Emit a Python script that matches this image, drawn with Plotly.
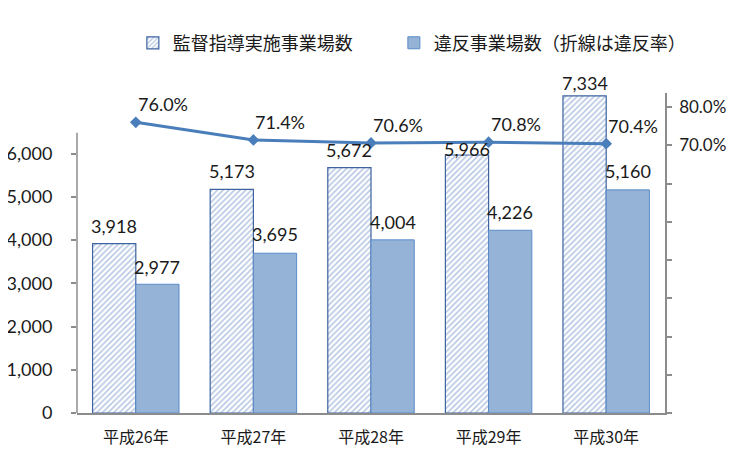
import plotly.graph_objects as go

categories = ["平成26年", "平成27年", "平成28年", "平成29年", "平成30年"]
supervised = [3918, 5173, 5672, 5966, 7334]
violations = [2977, 3695, 4004, 4226, 5160]
violation_rate = [76.0, 71.4, 70.6, 70.8, 70.4]
left_ticks = [0, 1000, 2000, 3000, 4000, 5000, 6000]
right_ticks = [0, 10, 20, 30, 40, 50, 60, 70, 80]
right_ticklabels = ["", "", "", "", "", "", "", "70.0%", "80.0%"]
series_names = ["監督指導実施事業場数", "違反事業場数（折線は違反率）"]

# style: label vertical nudges (px)
sup_label_shift = [5, 5, 5, -7, 0]
vio_label_shift = [4, 6, 5, 5, 6]

NUM_FONT = "Lato, 'Noto Sans CJK JP', sans-serif"
JP_FONT = "'Noto Sans CJK JP', sans-serif"
TXT = "#1a1a1a"
AX = "#8c8c8c"

fig = go.Figure()
fig.add_trace(go.Bar(
    x=categories, y=supervised, name=series_names[0] + "\u3000\u3000",
    marker=dict(color="white",
                line=dict(color="#3d63a0", width=1.2),
                pattern=dict(shape="/", fgcolor="#6f90c8", bgcolor="white", size=4, solidity=0.4)),
    hoverinfo="skip",
))
fig.add_trace(go.Bar(
    x=categories, y=violations, name=series_names[1],
    marker=dict(color="#95b3d7", line=dict(color="#5b8cc8", width=1)),
    hoverinfo="skip",
))
fig.add_trace(go.Scatter(
    x=categories, y=violation_rate, yaxis="y2", mode="lines+markers",
    line=dict(color="#4a7ebb", width=3),
    marker=dict(symbol="diamond", size=9, color="#4a7ebb"),
    showlegend=False, hoverinfo="skip",
))

ann = []
bar_half = 21.6
for c, v, s in zip(categories, supervised, sup_label_shift):
    ann.append(dict(x=c, y=v, xref="x", yref="y", text=f"{v:,}", showarrow=False,
                    xshift=-bar_half, yshift=s, yanchor="bottom", xanchor="center",
                    font=dict(family=NUM_FONT, size=18, color=TXT)))
for c, v, s in zip(categories, violations, vio_label_shift):
    ann.append(dict(x=c, y=v, xref="x", yref="y", text=f"{v:,}", showarrow=False,
                    xshift=bar_half, yshift=s, yanchor="bottom", xanchor="center",
                    font=dict(family=NUM_FONT, size=18, color=TXT)))
for c, r in zip(categories, violation_rate):
    ann.append(dict(x=c, y=r, xref="x", yref="y2", text=f"{r:.1f}%", showarrow=False,
                    xshift=27, yshift=18, yanchor="middle", xanchor="center",
                    font=dict(family=NUM_FONT, size=18, color=TXT)))

fig.update_layout(
    width=727, height=453,
    margin=dict(l=69, r=70, t=85, b=48, autoexpand=False),
    paper_bgcolor="white", plot_bgcolor="white",
    barmode="group", bargap=0.265, bargroupgap=0,
    showlegend=True,
    legend=dict(orientation="h", x=0.095, xanchor="left", y=1.156, yanchor="middle",
                font=dict(family=JP_FONT, size=18, color=TXT), itemwidth=30,
                bgcolor="rgba(0,0,0,0)"),
    xaxis=dict(showline=True, linecolor=AX, linewidth=1.5, ticks="", showgrid=False,
               automargin=False,
               tickfont=dict(family=JP_FONT, size=16, color=TXT), ticklabelstandoff=9),
    yaxis=dict(range=[0, 7400], tickvals=left_ticks, ticktext=[f"{t:,}" for t in left_ticks],
               showgrid=False, zeroline=False, showline=False, automargin=False,
               ticks="outside", ticklen=5, tickcolor=AX, tickwidth=1.5,
               tickfont=dict(family=NUM_FONT, size=18, color=TXT), ticklabelstandoff=15),
    yaxis2=dict(range=[0, 83.66], overlaying="y", side="right", tickvals=right_ticks,
                ticktext=right_ticklabels, showgrid=False, zeroline=False, automargin=False,
                showline=True, linecolor=AX, linewidth=1.5,
                ticks="outside", ticklen=5, tickcolor=AX, tickwidth=1.5,
                tickfont=dict(family=NUM_FONT, size=17, color=TXT), ticklabelstandoff=4),
    annotations=ann,
    shapes=[dict(type="line", xref="paper", yref="y", x0=0, x1=0, y0=0, y1=6480,
                 line=dict(color=AX, width=1.5))],
)

fig.write_html("out.html")
